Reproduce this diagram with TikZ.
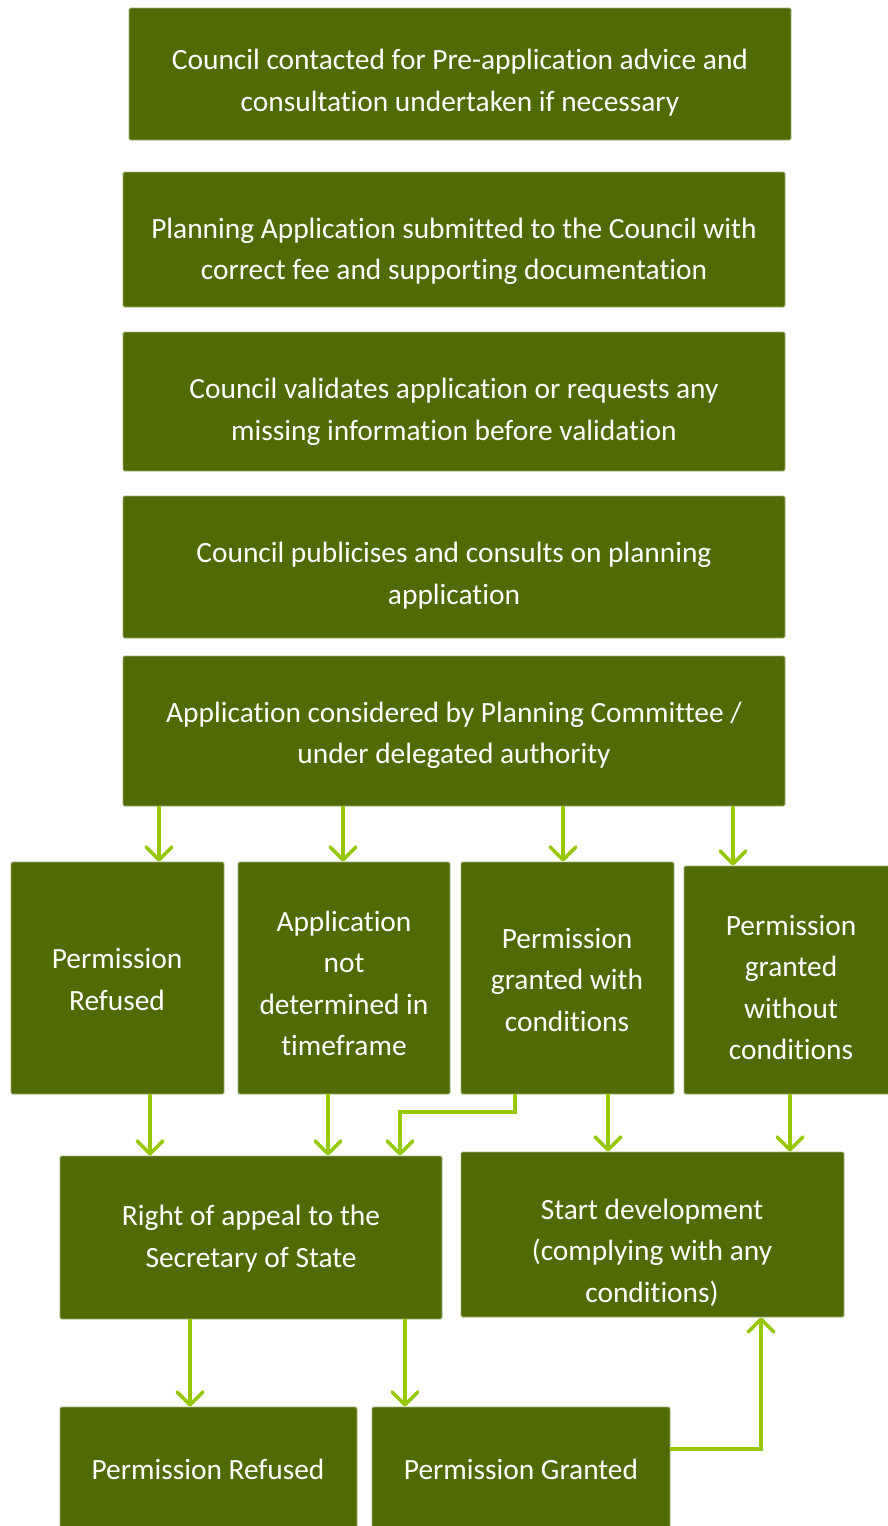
\documentclass[tikz,border=0pt]{standalone}
\usepackage{fontspec}
\setmainfont[Ligatures=NoCommon]{Carlito}
\usetikzlibrary{arrows.meta}
\definecolor{boxgreen}{HTML}{506B04}
\definecolor{boxedge}{HTML}{9DB070}
\definecolor{arrgreen}{HTML}{96C800}
\tikzset{
  box/.style={fill=boxgreen, draw=boxedge, line width=0.8pt, rounded corners=1.5pt, inner sep=0pt},
  txt/.style={text=white, align=center, inner sep=0pt, font=\fontsize{29.4}{41.5}\selectfont, yshift=-2.5pt},
  arr/.style={draw=arrgreen, line width=3.5pt, -{Straight Barb[length=13pt,width=26pt,line width=3.5pt,round]}},
}
\begin{document}
\begin{tikzpicture}[x=1pt,y=-1pt]
\useasboundingbox (0,0) rectangle (887,1526);
% boxes
\node[box, minimum width=662, minimum height=132] (b1) at (460,74) {};
\node[box, minimum width=662, minimum height=135] (b2) at (454,239.5) {};
\node[box, minimum width=662, minimum height=139] (b3) at (454,401.5) {};
\node[box, minimum width=662, minimum height=142] (b4) at (454,567) {};
\node[box, minimum width=662, minimum height=150] (b5) at (454,731) {};
\node[box, minimum width=213, minimum height=232] (a6) at (117.5,978) {};
\node[box, minimum width=212, minimum height=232] (b6) at (344,978) {};
\node[box, minimum width=213, minimum height=232] (c6) at (567.5,978) {};
\node[box, minimum width=211, minimum height=228] (d6) at (789.5,980) {};
\node[box, minimum width=382, minimum height=163] (e7) at (251,1237.5) {};
\node[box, minimum width=383, minimum height=165] (f7) at (652.5,1234.5) {};
\node[box, minimum width=297, minimum height=133] (g8) at (208.5,1473.5) {};
\node[box, minimum width=298, minimum height=133] (h8) at (521,1473.5) {};
% texts
\node[txt] (t1) at (460,80) {Council contacted for Pre-application advice and\\consultation undertaken if necessary};
\node[txt] (t2) at (454,249) {Planning Application submitted to the Council with\\correct fee and supporting documentation};
\node[txt] (t3) at (454,409.5) {Council validates application or requests any\\missing information before validation};
\node[txt] (t4) at (454,573) {Council publicises and consults on planning\\application};
\node[txt] (t5) at (454,733) {Application considered by Planning Committee /\\under delegated authority};
\node[txt] (ta6) at (117,977) {Permission\\Refused};
\node[txt] (tb6) at (344,981) {Application\\not\\determined in\\timeframe};
\node[txt] (tc6) at (567,977) {Permission\\granted with\\conditions};
\node[txt] (td6) at (791,985) {Permission\\granted\\without\\conditions};
\node[txt] (te7) at (251,1236) {Right of appeal to the\\Secretary of State};
\node[txt] (tf7) at (652,1250) {Start development\\(complying with any\\conditions)};
\node[txt] (tg8) at (208,1467) {Permission Refused};
\node[txt] (th8) at (521,1467) {Permission Granted};
% connectors
\draw[arr] (b5.south -| 159,0) -- (a6.north -| 159,0);
\draw[arr] (b5.south -| 343,0) -- (b6.north -| 343,0);
\draw[arr] (b5.south -| 563,0) -- (c6.north -| 563,0);
\draw[arr] (b5.south -| 733,0) -- (d6.north -| 733,0);
\draw[arr] (a6.south -| 150,0) -- (e7.north -| 150,0);
\draw[arr] (b6.south -| 328,0) -- (e7.north -| 328,0);
\draw[arr] (c6.south -| 515,0) |- (400,1112) -- (e7.north -| 400,0);
\draw[arr] (c6.south -| 608,0) -- (f7.north -| 608,0);
\draw[arr] (d6.south -| 790,0) -- (f7.north -| 790,0);
\draw[arr] (e7.south -| 190,0) -- (g8.north -| 190,0);
\draw[arr] (e7.south -| 405,0) -- (h8.north -| 405,0);
\draw[arr] (h8.east |- 0,1449) -| (f7.south -| 761,0);
\end{tikzpicture}
\end{document}
